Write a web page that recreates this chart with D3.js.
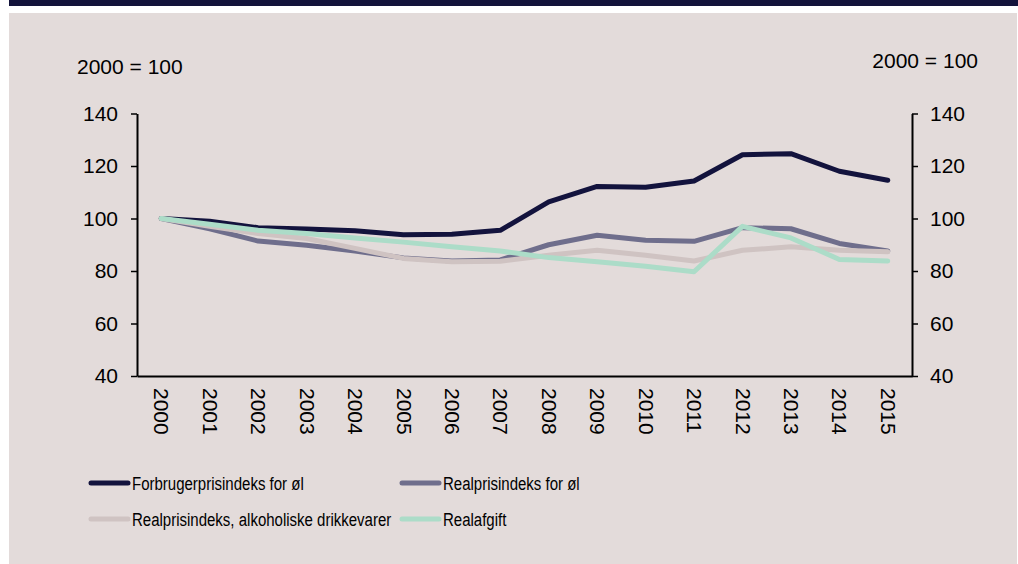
<!DOCTYPE html>
<html>
<head>
<meta charset="utf-8">
<script src="https://cdn.jsdelivr.net/npm/d3@7"></script>
<style>
  body { margin: 0; background: #fff; }
  svg { display: block; font-family: "Liberation Sans", Arial, sans-serif; }
</style>
</head>
<body>
<svg id="chart" width="1018" height="564"></svg>
<script>
const years = ['2000','2001','2002','2003','2004','2005','2006','2007','2008','2009','2010','2011','2012','2013','2014','2015'];
const yTicks = [40, 60, 80, 100, 120, 140];

const forbruger = [100, 99, 96.5, 96, 95.3, 93.8, 94, 95.5, 106.3, 112.2, 111.9, 114.3, 124.3, 124.7, 118, 114.6];
const realOl = [100, 96.1, 91.4, 89.8, 87.6, 85, 83.8, 84.2, 90, 93.6, 91.7, 91.3, 96.5, 96.1, 90.5, 87.6];
const realAlko = [100, 97, 94.3, 92.4, 88.6, 84.8, 83.5, 83.7, 86, 87.9, 86, 83.8, 87.9, 89.2, 87.9, 87.3];
const realafgift = [100, 97.8, 95.5, 94.3, 92.6, 91, 89.2, 87.6, 85.1, 83.5, 81.8, 79.7, 97, 92.6, 84.4, 83.8];

const seriesNames = ['Forbrugerprisindeks for øl', 'Realprisindeks for øl', 'Realprisindeks, alkoholiske drikkevarer', 'Realafgift'];
const seriesColors = ['#13133d', '#6f6e8c', '#cfc3c2', '#acdcc8'];
const seriesValues = [forbruger, realOl, realAlko, realafgift];

const svg = d3.select('#chart');
const fontFam = '"Liberation Sans", Arial, sans-serif';

// header strip and panel background
svg.append('rect').attr('x', 9).attr('y', 0).attr('width', 1009).attr('height', 6).attr('fill', '#13133b');
svg.append('rect').attr('x', 9).attr('y', 13).attr('width', 1008).attr('height', 551).attr('fill', '#e3dbda');

const plotLeft = 137, plotRight = 912, plotTop = 113.5, plotBottom = 376;
const x = d3.scalePoint().domain(years).range([plotLeft, plotRight]).padding(0.5);
const y = d3.scaleLinear().domain([40, 140]).range([plotBottom, plotTop]);

// y axes
const yLeft = svg.append('g')
  .attr('transform', `translate(${plotLeft},0)`)
  .call(d3.axisLeft(y).tickValues(yTicks).tickSize(6).tickSizeOuter(0).tickPadding(13));
const yRight = svg.append('g')
  .attr('transform', `translate(${plotRight},0)`)
  .call(d3.axisRight(y).tickValues(yTicks).tickSize(6).tickSizeOuter(0).tickPadding(12));

[yLeft, yRight].forEach(g => {
  g.attr('font-family', fontFam).attr('font-size', 21);
  g.select('.domain').attr('stroke', '#000').attr('stroke-width', 2);
  g.selectAll('.tick line').attr('stroke', '#000').attr('stroke-width', 1.5);
  g.selectAll('.tick text').attr('fill', '#000');
});

// x axis
const xAxis = svg.append('g')
  .attr('transform', `translate(0,${plotBottom})`)
  .call(d3.axisBottom(x).tickSize(0).tickSizeOuter(0));
xAxis.attr('font-family', fontFam).attr('font-size', 21);
xAxis.select('.domain').attr('stroke', '#000').attr('stroke-width', 2);
xAxis.selectAll('.tick text')
  .attr('fill', '#000')
  .attr('transform', 'rotate(90)')
  .attr('text-anchor', 'start')
  .attr('x', 12)
  .attr('y', 0)
  .attr('dy', '0.35em');

// unit labels
svg.append('text').attr('x', 77).attr('y', 74).attr('font-size', 21).text('2000 = 100');
svg.append('text').attr('x', 978).attr('y', 68).attr('font-size', 21).attr('text-anchor', 'end').text('2000 = 100');

// lines
const line = d3.line().x((d, i) => x(years[i])).y(d => y(d));
seriesValues.forEach((vals, k) => {
  svg.append('path')
    .datum(vals)
    .attr('d', line)
    .attr('fill', 'none')
    .attr('stroke', seriesColors[k])
    .attr('stroke-width', 5)
    .attr('stroke-linejoin', 'round')
    .attr('stroke-linecap', 'round');
});

// legend (narrow type, squeezed horizontally)
const legend = svg.append('g').attr('class', 'legend');
const legX = [91, 402], legY = [483, 519];
seriesNames.forEach((name, k) => {
  const lx = legX[k % 2], ly = legY[Math.floor(k / 2)];
  legend.append('line')
    .attr('x1', lx).attr('x2', lx + 37)
    .attr('y1', ly).attr('y2', ly)
    .attr('stroke', seriesColors[k])
    .attr('stroke-width', 5)
    .attr('stroke-linecap', 'round');
  legend.append('text')
    .attr('transform', `translate(${lx + 41},${ly}) scale(0.79,1)`)
    .attr('dy', '0.35em')
    .attr('font-size', 19)
    .text(name);
});
</script>
</body>
</html>
